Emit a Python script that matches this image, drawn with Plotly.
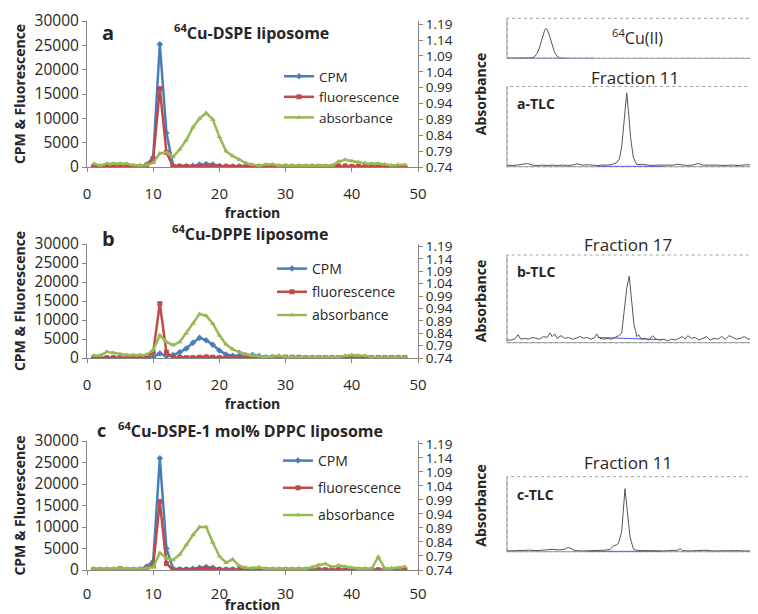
import plotly.graph_objects as go

# The page body keeps its default 8 px margin, so the figure is drawn 8 px in from
# the top-left corner of the 758x614 window; positions below are window pixels.
OFF = 8
W, H = 758 - OFF, 614 - OFF


def px(x):
    return (x - OFF) / W


def py(y):
    return 1 - (y - OFF) / H


# ---------------- data: column fractions ----------------
fraction = list(range(1, 49))

cpm_a = [0, 0, 0, 0, 0, 0, 0, 100, 500, 2000, 25200, 7000, 300, 200, 200, 250, 500, 600,
         500, 200, 150, 100, 100, 100, 50, 50, 50, 50, 50, 50, 50, 50, 50, 50, 50, 50,
         50, 100, 100, 50, 50, 50, 50, 50, 50, 50, 50, 50]
fl_a = [0, 0, 0, 0, 0, 0, 0, 0, 300, 1500, 16100, 3000, 100, 100, 100, 50, 100, 200,
        150, 100, 100, 50, 50, 50, 50, 50, 50, 50, 50, 50, 50, 50, 50, 100, 100, 50,
        50, 200, 200, 100, 100, 100, 100, 50, 50, 50, 50, 50]
abs_a = [0.750, 0.745, 0.750, 0.751, 0.751, 0.750, 0.746, 0.745, 0.746, 0.753, 0.783, 0.786,
         0.772, 0.795, 0.825, 0.865, 0.893, 0.910, 0.890, 0.835, 0.790, 0.775, 0.763, 0.752,
         0.747, 0.745, 0.748, 0.749, 0.745, 0.746, 0.745, 0.745, 0.745, 0.745, 0.745, 0.744,
         0.745, 0.757, 0.763, 0.759, 0.755, 0.752, 0.750, 0.751, 0.749, 0.745, 0.746, 0.747]

cpm_b = [0, 0, 0, 0, 0, 0, 0, 0, 0, 200, 1200, 500, 800, 1500, 2500, 4000, 5300, 4700,
         3500, 2000, 900, 600, 600, 700, 800, 500, 200, 200, 300, 100, 50, 0, 0, 0, 0, 0,
         0, 0, 0, 0, 0, 0, 0, 0, 0, 0, 0, 0]
fl_b = [50, 50, 50, 50, 50, 50, 50, 50, 50, 1500, 14300, 1500, 100, 200, 100, 100, 200, 300,
        200, 100, 100, 100, 100, 100, 100, 100, 100, 200, 100, 200, 200, 200, 100, 100, 100, 100,
        100, 100, 100, 100, 100, 100, 100, 100, 100, 100, 100, 100]
abs_b = [0.750, 0.750, 0.765, 0.760, 0.755, 0.752, 0.752, 0.752, 0.753, 0.772, 0.832, 0.805,
         0.792, 0.805, 0.840, 0.879, 0.918, 0.910, 0.879, 0.832, 0.795, 0.775, 0.765, 0.755,
         0.750, 0.748, 0.744, 0.747, 0.749, 0.745, 0.744, 0.744, 0.744, 0.744, 0.744, 0.744,
         0.744, 0.745, 0.749, 0.752, 0.750, 0.749, 0.744, 0.743, 0.743, 0.743, 0.743, 0.743]

cpm_c = [0, 0, 0, 0, 0, 0, 0, 200, 800, 2000, 26000, 5000, 300, 200, 200, 300, 500, 700,
         500, 200, 100, 100, 50, 50, 0, 0, 0, 0, 0, 0, 0, 0, 0, 0, 0, 0,
         0, 0, 0, 0, 0, 0, 0, 0, 0, 0, 0, 0]
fl_c = [50, 50, 50, 50, 300, 100, 50, 50, 300, 1000, 15900, 1500, 50, 50, 50, 100, 200, 400,
        200, 100, 50, 50, 50, 50, 50, 50, 50, 50, 50, 50, 50, 50, 50, 50, 50, 50,
        50, 50, 50, 50, 50, 50, 50, 50, 50, 50, 50, 50]
abs_c = [0.745, 0.745, 0.745, 0.745, 0.746, 0.745, 0.745, 0.745, 0.746, 0.750, 0.801, 0.782,
         0.776, 0.795, 0.830, 0.865, 0.893, 0.893, 0.838, 0.789, 0.766, 0.778, 0.755, 0.748,
         0.747, 0.750, 0.745, 0.745, 0.745, 0.745, 0.745, 0.745, 0.745, 0.750, 0.758, 0.762,
         0.751, 0.756, 0.752, 0.748, 0.745, 0.745, 0.745, 0.787, 0.745, 0.746, 0.748, 0.752]

left_ticks = [0, 5000, 10000, 15000, 20000, 25000, 30000]
left_labels = ["0", "5000", "10000", "15000", "20000", "25000", "30000"]
abs_ticks = [0.74, 0.79, 0.84, 0.89, 0.94, 0.99, 1.04, 1.09, 1.14, 1.19]
abs_labels = ["0.74", "0.79", "0.84", "0.89", "0.94", "0.99", "1.04", "1.09", "1.14", "1.19"]
x_ticks = [0, 10, 20, 30, 40, 50]

# ---------------- data: TLC radio-chromatograms (position %, signal %) ----------------
cu_x = [0, 4, 8, 10, 11, 12, 13, 14, 15, 15.5, 16, 17, 18, 19, 20, 21, 22, 24]
cu_y = [0, 0, 0, 1, 4, 12, 28, 50, 70, 75, 72, 55, 32, 14, 5, 1, 0, 0]
cu_blue_x = [0, 35]
cu_blue_y = [0, 0]

a_x = [0, 2, 4, 6, 8.2, 10, 12, 14, 16, 18, 20, 22, 24, 26, 28, 30, 32, 34, 36, 38,
       40, 42, 43.7, 44.8, 45.7, 46.6, 47.7, 48.5, 49.3, 50.3, 51.6, 53, 54, 56, 58, 60,
       62, 64, 66, 68, 70, 72, 74, 76, 78, 80, 82, 84, 86, 88, 90, 92, 94, 96, 98, 100]
a_y = [2, 1.5, 2, 2.5, 4, 2, 1.5, 2, 1.5, 2, 1.5, 2, 1.5, 2, 3.5, 2, 2.5, 2, 1.5, 2,
       2, 3, 5, 10, 25, 55, 92, 65, 35, 12, 3, 2.5, 3, 2, 1.5, 2,
       2, 2.5, 2, 3, 2, 1.5, 2, 4, 2, 2, 2.5, 2, 1.5, 2, 2, 1.5, 2, 2.5, 2, 2]
a_blue_x = [35.7, 62.3]
a_blue_y = [0.5, 0.5]

b_x = [0, 1.5, 3, 4.4, 5.5, 7, 8.5, 10, 11.5, 13, 14.5, 16, 17.1, 18, 19, 20, 21.5, 23,
       24.5, 26, 27.5, 29, 30.5, 32, 33.5, 35, 35.7, 37, 38.5, 40, 41.5, 43, 44.5, 45.7,
       46.4, 47.7, 48.7, 49.7, 50.6, 51.2, 51.7, 52.5, 53.5, 55, 56.5, 58, 59.5, 61, 62.5,
       64, 65.5, 67, 68.5, 70, 71, 72, 73.5, 75, 76.5, 78, 79.5, 81, 82.5, 84, 85.5, 87,
       88.5, 90, 91.5, 93, 94.5, 96, 97.5, 99, 100]
b_y = [3, 3, 4, 9, 4, 5, 4, 6, 5, 4, 7, 6, 11, 7, 10, 5, 8, 5,
       6, 4, 5, 7, 5, 6, 4, 6, 10, 5, 4, 5, 4, 6, 8, 11,
       28, 62, 76, 48, 20, 14, 7, 9, 4, 5, 3, 8, 4, 3, 4,
       2, 4, 3, 5, 7, 4, 8, 5, 6, 3, 5, 7, 3, 5, 4, 7, 4,
       8, 6, 4, 5, 7, 4, 5, 4, 5]
b_blue_x = [36, 62]
b_blue_y = [6, 3.5]

c_x = [0, 3, 6, 9, 12, 15, 18, 21, 23, 24.4, 25.5, 27, 30, 33, 36, 39, 41, 42.4, 43.5,
       44.4, 45.7, 46.4, 47, 47.9, 49, 50.3, 51.5, 53, 56, 59, 62, 65, 68, 69, 70, 73,
       76, 79, 82, 85, 88, 91, 94, 97, 100]
c_y = [1, 1.5, 1, 2, 1.5, 2.5, 3, 2.5, 3, 6, 4, 1.5, 1, 1, 1.5, 2, 3, 7.5, 9,
       11, 27, 55, 84, 55, 20, 4, 2, 1.5, 1, 1.5, 1, 1.5, 2, 4, 1.5, 1,
       1.5, 2, 1, 1.5, 1, 1.5, 1, 1.5, 1]
c_blue_x = [32.4, 61.6]
c_blue_y = [0.5, 0.5]

# ---------------- styling ----------------
FONT = "Open Sans"
BLUE = "#4A7EBB"
RED = "#BE4B48"
GREEN = "#98B954"
AXIS = "#868686"
TXT = "#262626"

fig = go.Figure()

panels = [
    dict(cpm=cpm_a, fl=fl_a, ab=abs_a, xa="x", yl="y", yr="y2", lg="legend", key="a"),
    dict(cpm=cpm_b, fl=fl_b, ab=abs_b, xa="x2", yl="y3", yr="y4", lg="legend2", key="b"),
    dict(cpm=cpm_c, fl=fl_c, ab=abs_c, xa="x3", yl="y5", yr="y6", lg="legend3", key="c"),
]

for p in panels:
    fig.add_trace(go.Scatter(
        x=fraction, y=p["cpm"], name="CPM", mode="lines+markers",
        line=dict(color=BLUE, width=2.5), marker=dict(symbol="diamond", size=5, color=BLUE),
        xaxis=p["xa"], yaxis=p["yl"], legend=p["lg"], legendgroup=p["key"] + "1"))
    fig.add_trace(go.Scatter(
        x=fraction, y=p["fl"], name="fluorescence", mode="lines+markers",
        line=dict(color=RED, width=2.5), marker=dict(symbol="square", size=5, color=RED),
        xaxis=p["xa"], yaxis=p["yl"], legend=p["lg"], legendgroup=p["key"] + "2"))
    fig.add_trace(go.Scatter(
        x=fraction, y=p["ab"], name="absorbance", mode="lines+markers",
        line=dict(color=GREEN, width=2.5), marker=dict(symbol="triangle-up", size=5, color=GREEN),
        xaxis=p["xa"], yaxis=p["yr"], legend=p["lg"], legendgroup=p["key"] + "3"))

# TLC traces
tlc = [
    ("x4", "y7", cu_x, cu_y, cu_blue_x, cu_blue_y),
    ("x5", "y8", a_x, a_y, a_blue_x, a_blue_y),
    ("x6", "y9", b_x, b_y, b_blue_x, b_blue_y),
    ("x7", "y10", c_x, c_y, c_blue_x, c_blue_y),
]
for xa, ya, tx, ty, bx, by in tlc:
    fig.add_trace(go.Scatter(x=bx, y=by, mode="lines", line=dict(color="#5050F0", width=1),
                             xaxis=xa, yaxis=ya, showlegend=False, hoverinfo="skip"))
    fig.add_trace(go.Scatter(x=tx, y=ty, mode="lines", line=dict(color="#555555", width=1),
                             xaxis=xa, yaxis=ya, showlegend=False))

# ---------------- layout ----------------
xdom = [px(87), px(418)]
plot_rows = [(21, 167), (244, 358), (441, 570)]


def xaxis_cfg(anchor, standoff):
    return dict(domain=xdom, anchor=anchor, range=[0, 50], tickvals=x_ticks, automargin=False,
                showline=True, linecolor=AXIS, linewidth=1, ticks="outside", ticklen=4,
                tickcolor=AXIS, showgrid=False, zeroline=False, ticklabelstandoff=standoff,
                tickfont=dict(family=FONT, size=15, color=TXT),
                title=dict(text="<b>fraction</b>", font=dict(family=FONT, size=14, color=TXT),
                           standoff=0))


def yleft_cfg(anchor, top, bottom):
    return dict(domain=[py(bottom), py(top)], anchor=anchor, range=[0, 30000], automargin=False,
                tickvals=left_ticks, ticktext=left_labels,
                showline=True, linecolor=AXIS, linewidth=1, ticks="outside", ticklen=4,
                tickcolor=AXIS, showgrid=False, zeroline=False,
                tickfont=dict(family=FONT, size=15.5, color=TXT),
                title=dict(text="<b>CPM &amp; Fluorescence</b>",
                           font=dict(family=FONT, size=14, color=TXT), standoff=5))


def yright_cfg(anchor, over):
    return dict(overlaying=over, side="right", anchor=anchor, range=[0.74, 1.2], automargin=False,
                tickvals=abs_ticks, ticktext=abs_labels,
                showline=True, linecolor=AXIS, linewidth=1, ticks="outside", ticklen=4,
                tickcolor=AXIS, showgrid=False, zeroline=False,
                tickfont=dict(family=FONT, size=13.5, color=TXT),
                title=dict(text="<b>Absorbance</b>", font=dict(family=FONT, size=14, color=TXT),
                           standoff=24))


layout = dict(
    width=W, height=H, margin=dict(l=0, r=0, t=0, b=0, autoexpand=False),
    paper_bgcolor="white", plot_bgcolor="rgba(0,0,0,0)",
    font=dict(family=FONT, color=TXT),
    xaxis=xaxis_cfg("y", 9), yaxis=yleft_cfg("x", *plot_rows[0]), yaxis2=yright_cfg("x", "y"),
    xaxis2=xaxis_cfg("y3", 9), yaxis3=yleft_cfg("x2", *plot_rows[1]), yaxis4=yright_cfg("x2", "y3"),
    xaxis3=xaxis_cfg("y5", 6), yaxis5=yleft_cfg("x3", *plot_rows[2]), yaxis6=yright_cfg("x3", "y5"),
)

tlc_boxes = [(18.3, 58.3), (86.5, 166.7), (255, 342.7), (476.7, 551.7)]
for i, (top, bottom) in enumerate(tlc_boxes):
    layout["xaxis%d" % (4 + i)] = dict(domain=[px(507), 1.0], range=[0, 100], visible=False,
                                       anchor="y%d" % (7 + i), automargin=False)
    layout["yaxis%d" % (7 + i)] = dict(domain=[py(bottom), py(top)], range=[0, 100], visible=False,
                                       anchor="x%d" % (4 + i), automargin=False)


def legend_cfg(x, y, size, gap):
    return dict(x=px(x), y=py(y), xanchor="left", yanchor="top", bgcolor="rgba(0,0,0,0)",
                font=dict(family=FONT, size=size, color=TXT), tracegroupgap=gap, itemwidth=30)


layout["legend"] = legend_cfg(279, 61, 13.5, 0)
layout["legend2"] = legend_cfg(272, 253, 14, 2)
layout["legend3"] = legend_cfg(278, 445, 14, 6)

fig.update_layout(**layout)

# TLC box outlines
shapes = []
for i in range(4):
    xr = "x%d domain" % (4 + i)
    yr = "y%d domain" % (7 + i)
    shapes.append(dict(type="rect", xref=xr, yref=yr, x0=0, x1=1, y0=0, y1=1,
                       line=dict(color="#a0a0a0", width=1, dash="dot"), layer="below"))
    shapes.append(dict(type="line", xref=xr, yref=yr, x0=0, x1=1, y0=0, y1=0,
                       line=dict(color="#9a9a9a", width=1), layer="below"))
    shapes.append(dict(type="line", xref=xr, yref=yr, x0=0, x1=0, y0=0, y1=1,
                       line=dict(color="#9a9a9a", width=1), layer="below"))
fig.update_layout(shapes=shapes)


def note(text, x, y, size, bold=False, xanchor="center"):
    t = "<b>%s</b>" % text if bold else text
    fig.add_annotation(text=t, x=px(x), y=py(y), xref="paper", yref="paper",
                       xanchor=xanchor, yanchor="middle", showarrow=False,
                       font=dict(family=FONT, size=size, color=TXT))


note("a", 108, 32, 20, bold=True)
note("<sup>64</sup>Cu-DSPE liposome", 252, 32, 16, bold=True)
note("b", 109, 238, 20, bold=True)
note("<sup>64</sup>Cu-DPPE liposome", 250, 233, 16, bold=True)
note("c", 101, 430, 18, bold=True)
note("<sup>64</sup>Cu-DSPE-1 mol% DPPC liposome", 250, 430, 16, bold=True)

note("<sup>64</sup>Cu(II)", 637, 37, 16)
note("Fraction 11", 635, 78, 17)
note("a-TLC", 515, 103, 14, bold=True, xanchor="left")
note("Fraction 17", 628, 244, 17)
note("b-TLC", 515, 272, 14, bold=True, xanchor="left")
note("Fraction 11", 628, 462, 17)
note("c-TLC", 515, 494, 14, bold=True, xanchor="left")

fig.write_html("out.html")
